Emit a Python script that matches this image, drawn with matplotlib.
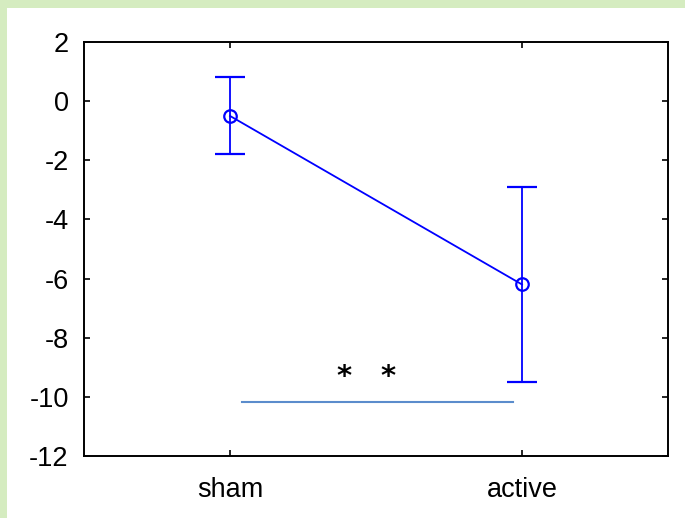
import numpy as np
import matplotlib.pyplot as plt
from matplotlib.patches import Rectangle

plt.rcParams['font.family'] = ['Liberation Sans', 'DejaVu Sans']
plt.rcParams['axes.unicode_minus'] = False

groups = ["sham", "active"]
means = [-0.5, -6.2]
errors = [1.3, 3.3]

# significance bar between the groups
sig_x = [1.04, 1.97]
sig_y = -10.17
stars_x = [1.39, 1.54]
stars_y = -9.32

fig = plt.figure(figsize=(6.85, 5.18), dpi=100)
fig.patch.set_facecolor("white")

# light green frame along the top and left edges
green = "#d5ecc0"
fig.patches.append(Rectangle((0, 1 - 8 / 518), 1, 8 / 518, transform=fig.transFigure,
                             facecolor=green, edgecolor="none", zorder=0))
fig.patches.append(Rectangle((0, 0), 7 / 685, 1, transform=fig.transFigure,
                             facecolor=green, edgecolor="none", zorder=0))

ax = fig.add_axes([84 / 685, 1 - 456 / 518, (668 - 84) / 685, (456 - 42) / 518])

x = np.arange(1, len(groups) + 1)
ax.errorbar(x, means, yerr=errors, color="#0000ff", lw=1.3, capsize=10.5, capthick=1.3,
            marker="o", markersize=9, markerfacecolor="none", markeredgewidth=1.6)

ax.plot(sig_x, [sig_y, sig_y], color="#5b8ccc", lw=1.5)
for sx in stars_x:
    ax.text(sx, stars_y, "*", ha="center", va="center", fontsize=21,
            family="DejaVu Sans", fontweight="bold")

ax.set_xlim(0.5, 2.5)
ax.set_ylim(-12, 2)
ax.set_xticks(x)
ax.set_xticklabels(groups)
ax.set_yticks(np.arange(-12, 3, 2))
ax.tick_params(direction="in", length=4, width=1.2, labelsize=19.5,
               top=True, right=True, pad=11)
ax.tick_params(axis="x", pad=15)
for s in ax.spines.values():
    s.set_linewidth(1.4)

fig.savefig("out.png", dpi=100)
